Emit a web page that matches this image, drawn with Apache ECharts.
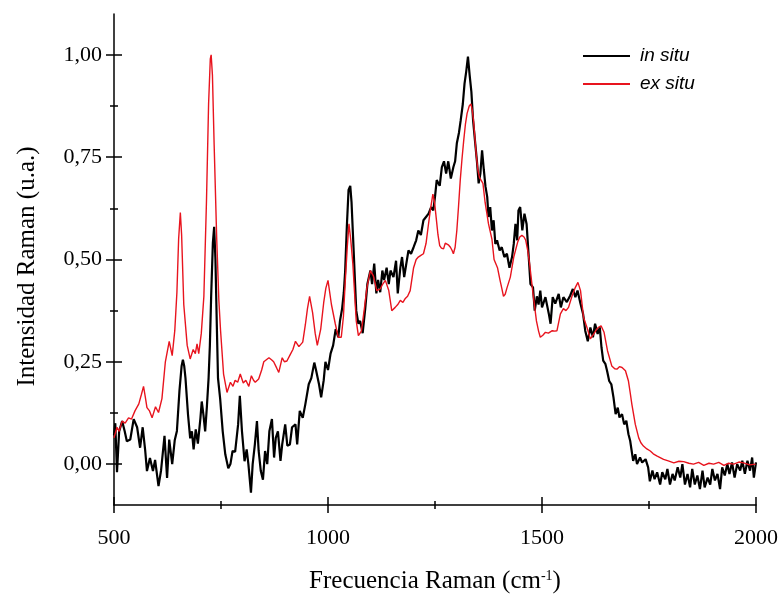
<!DOCTYPE html>
<html>
<head>
<meta charset="utf-8">
<script src="https://cdn.jsdelivr.net/npm/echarts@6.0.0/dist/echarts.min.js"></script>
<style>
  html, body { margin: 0; padding: 0; background: #fff; }
  #chart { width: 782px; height: 595px; }
</style>
</head>
<body>
<div id="chart"></div>
<script>
// espectro in situ (negro)
var waveInSitu = [500,503,507,512,519,525,530,538,546,554,561,567,573,577,584,591,596,604,610,618,624,629,636,642,647,653,658,661,664,667,673,678,682,686,691,696,702,705,709,713,717,721,724,727,731,734,737,740,743,748,754,760,767,772,777,783,790,794,799,805,810,814,820,824,829,834,838,843,848,853,858,863,869,874,878,883,889,893,900,905,911,916,924,928,934,941,947,955,961,968,972,979,984,990,994,1000,1006,1012,1018,1024,1028,1033,1037,1040,1044,1048,1052,1055,1060,1066,1071,1075,1081,1087,1092,1099,1103,1108,1113,1117,1122,1127,1131,1137,1142,1146,1153,1159,1163,1169,1173,1178,1183,1188,1194,1200,1206,1211,1217,1223,1229,1235,1241,1246,1250,1254,1261,1266,1271,1276,1281,1287,1293,1297,1301,1306,1310,1315,1319,1323,1327,1331,1335,1339,1344,1348,1352,1356,1360,1364,1368,1372,1375,1379,1383,1387,1391,1395,1401,1406,1412,1418,1424,1430,1434,1438,1442,1445,1449,1454,1459,1464,1469,1473,1479,1483,1488,1492,1496,1500,1508,1516,1520,1525,1531,1539,1544,1550,1558,1566,1572,1578,1583,1590,1596,1601,1607,1613,1619,1624,1630,1635,1639,1643,1648,1652,1657,1662,1667,1672,1677,1681,1687,1692,1697,1702,1706,1713,1718,1722,1729,1734,1742,1748,1752,1758,1763,1769,1776,1781,1788,1793,1799,1805,1810,1817,1823,1828,1834,1840,1846,1851,1857,1863,1869,1875,1880,1887,1893,1898,1904,1910,1916,1921,1927,1933,1938,1944,1950,1956,1963,1968,1974,1980,1986,1991,1995,2000];
var intInSitu = [0.07,0.10,-0.02,0.08,0.105,0.08,0.056,0.06,0.11,0.09,0.04,0.09,0.032,-0.017,0.015,-0.017,0.01,-0.054,-0.015,0.069,-0.034,0.06,0,0.059,0.081,0.18,0.24,0.255,0.24,0.21,0.12,0.063,0.08,0.036,0.085,0.05,0.113,0.153,0.12,0.08,0.14,0.21,0.29,0.41,0.54,0.58,0.50,0.35,0.21,0.16,0.08,0.024,-0.01,0,0.032,0.03,0.097,0.167,0.08,0.007,0.036,0,-0.07,0,0.047,0.105,0.032,-0.017,-0.038,0.032,0,0.08,0.11,0.016,0.064,0.08,0.008,0.048,0.097,0.045,0.048,0.09,0.097,0.048,0.13,0.113,0.146,0.195,0.21,0.248,0.23,0.195,0.163,0.205,0.25,0.23,0.27,0.29,0.33,0.31,0.35,0.38,0.42,0.47,0.58,0.67,0.68,0.64,0.52,0.375,0.343,0.35,0.32,0.38,0.44,0.473,0.44,0.49,0.417,0.45,0.42,0.473,0.45,0.48,0.44,0.473,0.457,0.497,0.417,0.48,0.506,0.457,0.49,0.522,0.514,0.53,0.547,0.571,0.56,0.596,0.604,0.612,0.628,0.62,0.653,0.694,0.68,0.726,0.74,0.71,0.74,0.698,0.726,0.74,0.784,0.81,0.84,0.88,0.93,0.96,0.996,0.95,0.91,0.84,0.784,0.74,0.686,0.71,0.767,0.72,0.678,0.653,0.604,0.628,0.571,0.596,0.538,0.547,0.522,0.53,0.506,0.514,0.48,0.506,0.538,0.587,0.547,0.62,0.628,0.571,0.612,0.587,0.506,0.44,0.432,0.375,0.41,0.39,0.424,0.383,0.408,0.367,0.343,0.408,0.392,0.416,0.383,0.408,0.396,0.412,0.428,0.408,0.424,0.392,0.367,0.326,0.30,0.334,0.31,0.343,0.318,0.334,0.285,0.253,0.245,0.228,0.203,0.195,0.163,0.122,0.138,0.114,0.122,0.097,0.106,0.073,0.057,0.008,0.024,0,0.016,0.004,0.012,-0.008,-0.042,-0.016,-0.037,-0.02,-0.05,-0.02,-0.037,-0.012,-0.05,-0.024,-0.04,-0.008,-0.033,0,-0.05,-0.024,-0.057,-0.012,-0.05,-0.028,-0.061,-0.016,-0.057,-0.033,-0.05,-0.012,-0.04,-0.024,-0.061,-0.008,-0.028,0,-0.024,0.004,-0.033,0,-0.016,0.008,-0.024,0.008,-0.016,0.016,-0.033,0.004];

// espectro ex situ (rojo)
var waveExSitu = [500,507,512,519,526,534,541,549,558,564,569,573,577,583,589,597,604,612,620,629,636,642,647,651,655,658,663,671,678,685,690,694,698,704,710,716,721,725,727,730,734,740,745,749,756,764,772,778,783,789,795,802,808,815,821,826,830,838,845,850,856,862,868,873,880,885,893,898,904,912,918,924,932,941,947,952,957,964,970,975,983,990,995,1000,1008,1017,1024,1031,1036,1040,1045,1049,1053,1058,1062,1066,1071,1078,1085,1091,1099,1106,1114,1122,1128,1134,1142,1149,1157,1163,1169,1175,1180,1186,1192,1200,1206,1211,1217,1223,1229,1234,1239,1245,1249,1253,1257,1261,1265,1270,1274,1278,1282,1286,1290,1293,1297,1301,1305,1309,1313,1317,1321,1325,1330,1334,1337,1340,1343,1346,1350,1354,1358,1362,1367,1375,1383,1388,1396,1402,1406,1410,1414,1418,1426,1434,1443,1448,1453,1458,1462,1467,1471,1479,1484,1487,1492,1496,1502,1508,1515,1524,1530,1535,1543,1550,1556,1562,1570,1578,1584,1590,1597,1605,1613,1621,1628,1633,1638,1645,1653,1663,1670,1675,1681,1687,1695,1702,1706,1710,1718,1726,1731,1737,1745,1753,1760,1768,1776,1784,1795,1808,1820,1831,1843,1854,1866,1878,1890,1901,1913,1925,1936,1948,1960,1971,1985,1999];
var intExSitu = [0.064,0.09,0.08,0.105,0.10,0.113,0.11,0.13,0.147,0.17,0.19,0.165,0.138,0.13,0.113,0.14,0.126,0.16,0.25,0.30,0.265,0.326,0.42,0.55,0.615,0.56,0.39,0.29,0.257,0.28,0.27,0.294,0.27,0.32,0.41,0.64,0.88,0.99,1.0,0.95,0.78,0.55,0.40,0.326,0.22,0.175,0.20,0.19,0.205,0.20,0.22,0.198,0.205,0.19,0.216,0.205,0.20,0.208,0.23,0.25,0.255,0.26,0.255,0.25,0.235,0.224,0.26,0.25,0.252,0.268,0.28,0.30,0.287,0.298,0.34,0.38,0.41,0.37,0.32,0.29,0.33,0.395,0.43,0.449,0.39,0.343,0.31,0.31,0.36,0.44,0.53,0.587,0.55,0.49,0.42,0.35,0.314,0.325,0.38,0.432,0.473,0.46,0.424,0.428,0.44,0.449,0.424,0.375,0.383,0.39,0.40,0.395,0.404,0.41,0.424,0.48,0.50,0.506,0.51,0.514,0.539,0.58,0.62,0.66,0.64,0.60,0.56,0.534,0.528,0.526,0.54,0.543,0.535,0.53,0.522,0.514,0.53,0.571,0.63,0.694,0.745,0.79,0.83,0.857,0.875,0.88,0.865,0.84,0.80,0.76,0.72,0.70,0.70,0.686,0.64,0.587,0.55,0.50,0.48,0.449,0.43,0.41,0.415,0.43,0.457,0.506,0.542,0.555,0.559,0.555,0.547,0.52,0.49,0.416,0.375,0.35,0.325,0.31,0.315,0.322,0.32,0.326,0.325,0.326,0.367,0.38,0.375,0.383,0.41,0.432,0.444,0.424,0.359,0.334,0.306,0.318,0.33,0.335,0.338,0.322,0.277,0.24,0.233,0.232,0.238,0.236,0.228,0.203,0.175,0.146,0.097,0.064,0.052,0.044,0.037,0.032,0.025,0.02,0.016,0.0115,0.008,0.003,0.007,0.006,0.002,0,0.004,-0.003,0.002,0,0.004,-0.003,0.002,0,0.005,0.003,-0.002,0];

var majorY = [0, 0.25, 0.5, 0.75, 1.0];
var minorY = [0.125, 0.375, 0.625, 0.875];

var serif = "'Liberation Serif', 'Times New Roman', serif";

function pairs(xs, ys) {
  return xs.map(function (x, i) { return [x, ys[i]]; });
}

function yAx(ticks, len, inside, main) {
  return {
    type: 'value',
    min: -0.1,
    max: 1.1,
    position: 'left',
    offset: 0,
    name: main ? 'Intensidad Raman (u.a.)' : '',
    nameLocation: 'middle',
    nameGap: 74,
    nameTextStyle: { fontFamily: serif, fontSize: 25, color: '#000', padding: [0, 14, 0, 0] },
    axisLine: { show: main, onZero: false, lineStyle: { color: '#000', width: 1.5 } },
    axisTick: { show: true, inside: inside, length: len, customValues: ticks,
                lineStyle: { color: '#000', width: 1.5 } },
    axisLabel: { show: main, customValues: ticks, margin: 12,
                 fontFamily: serif, fontSize: 22, color: '#000',
                 formatter: function (v) { return v.toFixed(2).replace('.', ','); } },
    splitLine: { show: false }
  };
}

function xAx(inside, main) {
  return {
    type: 'value',
    min: 500,
    max: 2000,
    interval: 500,
    position: 'bottom',
    offset: 0,
    name: main ? 'Frecuencia Raman (cm{sup|-1})' : '',
    nameLocation: 'middle',
    nameGap: 64,
    nameTextStyle: { fontFamily: serif, fontSize: 25, color: '#000',
                     rich: { sup: { fontFamily: serif, fontSize: 14, verticalAlign: 'top', color: '#000' } } },
    axisLine: { show: main, onZero: false, lineStyle: { color: '#000', width: 1.5 } },
    axisTick: { show: true, inside: inside, length: 8, lineStyle: { color: '#000', width: 1.5 } },
    minorTick: { show: true, splitNumber: 2, length: 4, lineStyle: { color: '#000', width: 1.5 } },
    axisLabel: { show: main, margin: 22, fontFamily: serif, fontSize: 22, color: '#000',
                 formatter: function (v) { return String(v); } },
    splitLine: { show: false }
  };
}

var chart = echarts.init(document.getElementById('chart'));
chart.setOption({
  animation: false,
  backgroundColor: '#fff',
  grid: { left: 114, right: 26, top: 14, bottom: 90, outerBoundsMode: 'none' },
  legend: {
    orient: 'vertical',
    left: 583,
    top: 46,
    padding: 0,
    itemGap: 8,
    itemWidth: 47,
    itemHeight: 2,
    icon: 'rect',
    textStyle: { fontFamily: "'Liberation Sans', Arial, sans-serif", fontStyle: 'italic',
                 fontSize: 19, lineHeight: 20, color: '#000', padding: [0, 0, 0, 5] },
    data: ['in situ', 'ex situ']
  },
  xAxis: [xAx(false, true), xAx(true, false)],
  yAxis: [yAx(majorY, 8, false, true), yAx(majorY, 8, true, false),
          yAx(minorY, 4, false, false), yAx(minorY, 4, true, false)],
  series: [
    {
      name: 'in situ',
      type: 'line',
      showSymbol: false,
      color: '#000',
      lineStyle: { color: '#000', width: 2.2 },
      data: pairs(waveInSitu, intInSitu)
    },
    {
      name: 'ex situ',
      type: 'line',
      showSymbol: false,
      color: '#e8141e',
      lineStyle: { color: '#e8141e', width: 1.4 },
      data: pairs(waveExSitu, intExSitu)
    }
  ]
});
</script>
</body>
</html>
